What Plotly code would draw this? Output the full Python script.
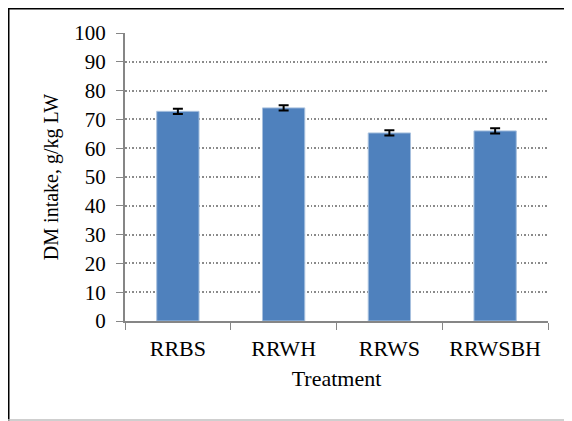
import plotly.graph_objects as go

categories = ["RRBS", "RRWH", "RRWS", "RRWSBH"]
dm_intake = [72.8, 74.0, 65.3, 66.0]
errors = [0.9, 0.9, 0.9, 0.9]
y_ticks = [0, 10, 20, 30, 40, 50, 60, 70, 80, 90, 100]

font = "Liberation Serif, Times New Roman, serif"

fig = go.Figure()
fig.add_trace(go.Bar(
    x=categories, y=dm_intake,
    marker=dict(color="#4F81BD", line=dict(color="#A7C0DE", width=1)),
    error_y=dict(type="data", array=errors, color="black", thickness=2, width=5),
    width=0.4,
))

# page body has an 8px margin, so figure origin is at (8, 8)
W, H = 564, 413
L, R, T, B = 117, 24, 25, 100
pw, ph = W - L - R, H - T - B

def px_x(x):
    return (x - L) / pw

def px_y(y):
    return (H - B - y) / ph

fig.update_layout(
    width=W, height=H,
    margin=dict(l=L, r=R, t=T, b=B),
    paper_bgcolor="white", plot_bgcolor="white",
    showlegend=False,
    font=dict(family=font, size=20, color="black"),
    xaxis=dict(
        title=dict(text="Treatment", font=dict(size=22), standoff=10),
        tickson="boundaries", ticks="outside", ticklen=7, tickcolor="#868686",
        showline=True, linecolor="#868686", linewidth=2,
        tickfont=dict(size=22), ticklabelstandoff=7,
    ),
    yaxis=dict(
        title=dict(text="DM intake, g/kg LW", font=dict(size=20), standoff=10),
        range=[0, 100], tickvals=y_ticks, ticks="outside", ticklen=7, tickcolor="#868686",
        showline=True, linecolor="#868686", linewidth=2,
        showgrid=True, gridcolor="#8a8a8a", griddash="1.5px,2px", gridwidth=1.5,
        zeroline=False, tickfont=dict(size=21), ticklabelstandoff=6,
    ),
    shapes=[
        dict(type="line", xref="paper", yref="paper",
             x0=px_x(0.75), x1=px_x(W + 5), y0=px_y(0.75), y1=px_y(0.75),
             line=dict(color="black", width=1.5)),
        dict(type="line", xref="paper", yref="paper",
             x0=px_x(0.75), x1=px_x(0.75), y0=px_y(0), y1=px_y(H),
             line=dict(color="black", width=1.5)),
        dict(type="line", xref="paper", yref="paper",
             x0=px_x(0), x1=px_x(W), y0=px_y(H - 1), y1=px_y(H - 1),
             line=dict(color="#BFBFBF", width=1.5)),
    ],
)

fig.write_html("out.html")
